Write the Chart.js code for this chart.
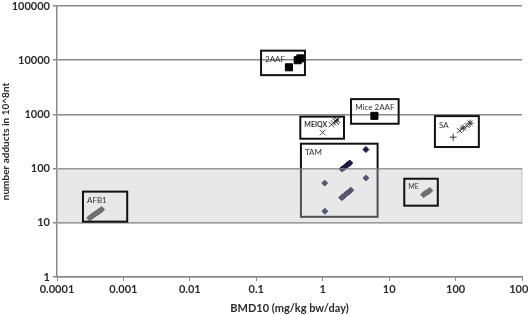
<!DOCTYPE html>
<html>
<head>
<meta charset="utf-8">
<script src="https://cdn.jsdelivr.net/npm/chart.js@4/dist/chart.umd.min.js"></script>
<style>
  html, body { margin: 0; padding: 0; background: #fff; }
  #wrap { width: 528px; height: 315px; }
</style>
</head>
<body>
<div id="wrap"><canvas id="bmd" width="528" height="315"></canvas></div>
<script>
// axis ticks
const xTicks = [0.0001, 0.001, 0.01, 0.1, 1, 10, 100, 1000];
const yTicks = [1, 10, 100, 1000, 10000, 100000];

// series
const aafX = [0.31, 0.42, 0.46];
const aafY = [7400, 10000, 10800];
const miceX = [6.0];
const miceY = [940];
const meiqxX = [1.0, 1.35, 1.45, 1.55, 1.6, 1.65];
const meiqxY = [465, 650, 700, 760, 720, 790];
const saX = [92, 115, 130, 150, 165];
const saY = [380, 500, 560, 620, 690];
const tamX = [4.47, 1.95, 2.05, 2.15, 2.25, 2.35, 2.45, 2.55,
              1.07, 1.08, 4.47, 1.93, 2.03, 2.13, 2.24, 2.35, 2.5, 2.65];
const tamY = [225, 98, 102, 107, 112, 117, 122, 127,
              54, 16.3, 67, 29, 30.5, 32, 34, 35.5, 37.5, 40];
const afbX = [0.00031, 0.00033, 0.00035, 0.00037, 0.00039, 0.00041, 0.00043, 0.00045, 0.00047];
const afbY = [12.3, 13, 13.7, 14.4, 15, 15.6, 16.3, 17, 17.6];
const meX = [33, 34.5, 36, 37.5, 39, 41];
const meY = [33, 34.5, 35.5, 36.8, 38, 39.5];

// shaded range on the y axis
const bandLow = 10, bandHigh = 100;

// group boxes in data units
const groupBoxes = [
  { label: '2AAF', x0: 0.118, x1: 0.54, y0: 5300, y1: 15000 },
  { label: 'MEIQX', x0: 0.46, x1: 2.09, y0: 356, y1: 910, bold: true },
  { label: 'Mice 2AAF', x0: 2.67, x1: 13.9, y0: 672, y1: 1915, center: true },
  { label: 'SA', x0: 48.9, x1: 224, y0: 250, y1: 930 },
  { label: 'TAM', x0: 0.47, x1: 6.7, y0: 12.9, y1: 288, under: true },
  { label: 'AFB1', x0: 0.000246, x1: 0.00114, y0: 10.5, y1: 37.6 },
  { label: 'ME', x0: 16.9, x1: 54, y0: 20.7, y1: 65, small: true }
];

const pts = (xs, ys) => xs.map((v, i) => ({ x: v, y: ys[i] }));

const groupPlugin = {
  id: 'groupBoxes',
  afterDatasetsDraw(chart) {
    const ctx = chart.ctx;
    const area = chart.chartArea;
    const xs = chart.scales.x, ys = chart.scales.y;
    const drawBox = b => {
      const l = xs.getPixelForValue(b.x0), r = xs.getPixelForValue(b.x1);
      const t = ys.getPixelForValue(b.y1), bt = ys.getPixelForValue(b.y0);
      ctx.save();
      ctx.strokeStyle = '#111';
      ctx.lineWidth = 2;
      ctx.strokeRect(l, t, r - l, bt - t);
      ctx.fillStyle = '#333';
      ctx.font = (b.bold ? 'bold 7px' : (b.small ? '7px' : '8px')) + ' Lato';
      ctx.textBaseline = 'top';
      if (b.center) {
        ctx.textAlign = 'center';
        ctx.fillText(b.label, (l + r) / 2, t + 4);
      } else {
        ctx.textAlign = 'left';
        ctx.fillText(b.label, l + 4, t + 5);
      }
      ctx.restore();
    };
    groupBoxes.filter(b => b.under).forEach(drawBox);
    // translucent band over the marks
    const bt = ys.getPixelForValue(bandHigh), bb = ys.getPixelForValue(bandLow);
    ctx.save();
    ctx.fillStyle = 'rgba(190,190,190,0.36)';
    ctx.fillRect(area.left, bt, area.right - area.left, bb - bt);
    ctx.strokeStyle = 'rgba(160,160,160,0.6)';
    ctx.lineWidth = 1;
    ctx.strokeRect(area.left, bt, area.right - area.left, bb - bt);
    ctx.restore();
    groupBoxes.filter(b => !b.under).forEach(drawBox);
  }
};

const ctx = document.getElementById('bmd');
new Chart(ctx, {
  type: 'scatter',
  data: {
    datasets: [
      { label: '2AAF', data: pts(aafX, aafY), pointStyle: 'rect', pointRadius: 5,
        backgroundColor: '#000', borderColor: '#000' },
      { label: 'Mice 2AAF', data: pts(miceX, miceY), pointStyle: 'rect', pointRadius: 5,
        backgroundColor: '#000', borderColor: '#000' },
      { label: 'MEIQX', data: pts(meiqxX, meiqxY), pointStyle: 'crossRot', pointRadius: 4,
        borderWidth: 1, borderColor: ['#555', '#444', '#555', '#333', '#444', '#000'] },
      { label: 'SA', data: pts(saX, saY), pointStyle: ['cross', 'crossRot', 'star', 'crossRot', 'star'],
        pointRadius: 3.5, borderWidth: 1, borderColor: '#333' },
      { label: 'TAM', data: pts(tamX, tamY), pointStyle: 'rectRot', pointRadius: 3,
        backgroundColor: '#1c1c48', borderColor: '#1c1c48' },
      { label: 'AFB1', data: pts(afbX, afbY), pointStyle: 'rectRot', pointRadius: 3,
        backgroundColor: '#444', borderColor: '#444' },
      { label: 'ME', data: pts(meX, meY), pointStyle: 'rectRot', pointRadius: 3,
        backgroundColor: '#444', borderColor: '#444' }
    ]
  },
  options: {
    responsive: false,
    animation: { duration: 0 },
    layout: { padding: { top: 6, right: 6, left: 0, bottom: 0 } },
    plugins: {
      legend: { display: false },
      tooltip: { enabled: false }
    },
    scales: {
      x: {
        type: 'logarithmic',
        min: 0.0001,
        max: 1000,
        afterBuildTicks: s => { s.ticks = xTicks.map(v => ({ value: v })); },
        afterFit: s => { s.height = 38; s.paddingLeft = 0; s.paddingRight = 0; },
        border: { color: '#8a8a8a', width: 1.5 },
        grid: { drawOnChartArea: false, drawTicks: true, tickLength: 4, color: '#8a8a8a' },
        ticks: {
          autoSkip: false, maxRotation: 0, padding: 2,
          color: '#2a2a2a', font: { family: 'Lato', size: 11, weight: 'bold' },
          callback: v => String(v)
        },
        title: {
          display: true, text: 'BMD10 (mg/kg bw/day)', color: '#2a2a2a',
          font: { family: 'Lato', size: 11, weight: 'bold' }, padding: { top: 2, bottom: 0 }
        }
      },
      y: {
        type: 'logarithmic',
        min: 1,
        max: 100000,
        afterBuildTicks: s => { s.ticks = yTicks.map(v => ({ value: v })); },
        afterFit: s => { s.width = 57; s.paddingTop = 0; s.paddingBottom = 0; },
        border: { color: '#8a8a8a', width: 1.5 },
        grid: { color: '#8a8a8a', lineWidth: 1.5, tickLength: 4 },
        ticks: {
          autoSkip: false, padding: 3,
          color: '#2a2a2a', font: { family: 'Lato', size: 11, weight: 'bold' },
          callback: v => String(v)
        },
        title: {
          display: true, text: 'number adducts in 10^8nt', color: '#2a2a2a',
          font: { family: 'Lato', size: 10, weight: 'bold' }, padding: { top: 0, bottom: 0 }
        }
      }
    }
  },
  plugins: [groupPlugin]
});
</script>
</body>
</html>
